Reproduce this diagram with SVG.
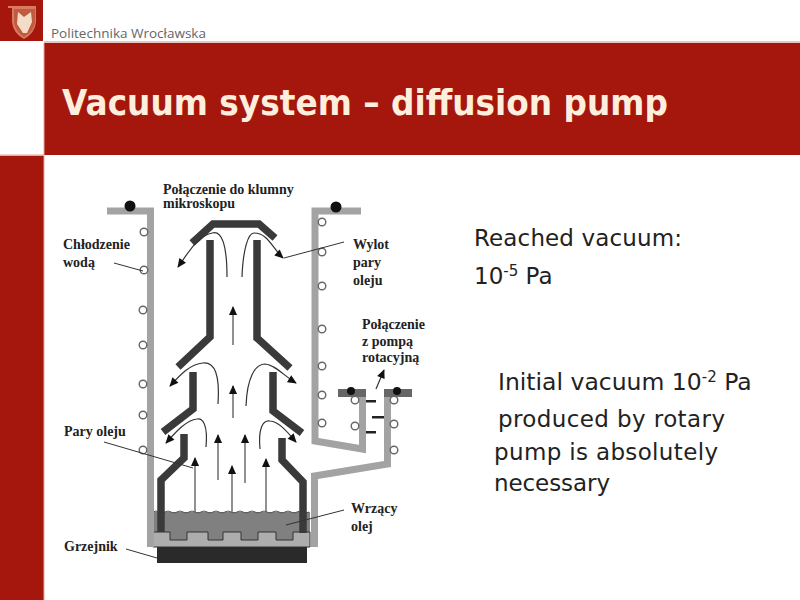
<svg xmlns="http://www.w3.org/2000/svg" width="800" height="600" viewBox="0 0 800 600">
<defs>
<marker id="ahb" viewBox="0 0 10 10" refX="9" refY="5" markerWidth="14" markerHeight="9" markerUnits="userSpaceOnUse" orient="auto"><path d="M0,0.5 L10,5 L0,9.5 Z" fill="#111"/></marker>
</defs>
<style>
.red{fill:#a5170d}
.wall{fill:none;stroke:#a3a3a3;stroke-width:7}
.noz{fill:none;stroke:#3a3a3a;stroke-width:7.500}
.flow{fill:none;stroke:#333;stroke-width:1.2;marker-end:url(#ahb)}
.up{fill:none;stroke:#555;stroke-width:1.3;marker-end:url(#ahb)}
.lead{fill:none;stroke:#333;stroke-width:1}
.c{fill:#fff;stroke:#666;stroke-width:1.4}
.dot{fill:#111}
.lab{font-family:"Liberation Serif",serif;font-weight:bold;font-size:14px;fill:#222}
.t{font-family:"DejaVu Sans",sans-serif;font-size:23px;fill:#222}
.sup{font-size:15px}
</style>
<rect width="800" height="600" fill="#fff"/>
<g id="frame">
<rect class="red" x="0" y="0" width="43" height="41"/>
<rect class="red" x="44" y="43" width="756" height="112"/>
<rect class="red" x="0" y="155" width="44" height="445"/>
<rect x="44" y="41" width="756" height="2" fill="#e8c4bc"/>
<rect x="0" y="154.500" width="44" height="1.500" fill="#e8a8a0"/>
<rect x="43.500" y="43" width="1" height="557" fill="#e8a8a0"/>
<path d="M8,6 L36,6 L36,22 Q35,33 24,39 Q13,33 12,22 L12,8 L8,8 Z" fill="#d97a5f"/>
<path d="M14,9 L35,9 L35,22 Q34,31 24,37 Q15,31 14,22 Z" fill="#c05a40"/>
<path d="M18,12 L24,17 L31,12 L32,22 L27,33 L23,33 L17,24 Z" fill="#f3dcc8"/>
<text x="51" y="37.500" font-family="Open Sans, sans-serif" font-size="13.500" fill="#666">Politechnika Wrocławska</text>
<text x="62" y="115" font-family="DejaVu Sans, sans-serif" font-weight="bold" font-size="36" fill="#fdeedd" textLength="606" lengthAdjust="spacingAndGlyphs">Vacuum system – diffusion pump</text>
</g>
<g id="pump-body">
<rect x="153" y="512" width="157" height="35" fill="#808080"/>
<path d="M153,532 H170 V540 H187 V532 H208 V540 H223 V532 H241 V540 H258 V532 H276 V540 H293 V532 H310 V547 H153 Z" fill="#adadad" stroke="#333" stroke-width="1"/>
<path d="M153,512 q3,-2 6,0 t6,0 t6,0 t6,0 t6,0 t6,0 t6,0 t6,0 t6,0 t6,0 t6,0 t6,0 t6,0 t6,0 t6,0 t6,0 t6,0 t6,0 t6,0 t6,0 t6,0 t6,0 t6,0 t6,0 t6,0 t6,0" fill="none" stroke="#555" stroke-width="1"/>
<rect x="157" y="547" width="150" height="16" fill="#2a2a2a"/>
<path class="wall" d="M107,211 H150.500 V547"/>
<path class="wall" d="M361,211 H315 V441 L362.500,449 V393"/>
<path class="wall" d="M387.500,393 V464 L314.500,476 V547"/>
<rect x="338" y="389" width="28" height="8" fill="#666"/>
<rect x="384" y="389" width="28" height="8" fill="#666"/>
</g>
<g id="nozzles">
<path class="noz" d="M192,243 L213,224 H259 L275,238"/>
<path class="noz" d="M210,240 V337 L178,367"/>
<path class="noz" d="M257,240 V338 L290,368"/>
<path class="noz" d="M193,372 V409 L163,432"/>
<path class="noz" d="M273,372 V411 L302,433"/>
<path class="noz" d="M184,434 V458 L161,480 V532"/>
<path class="noz" d="M282,438 V460 L303,482 V533"/>
</g>
<g id="studs">
<circle class="dot" cx="130" cy="206" r="5.500"/><circle class="dot" cx="336" cy="207" r="5.500"/>
<circle class="dot" cx="351" cy="391" r="4"/><circle class="dot" cx="397" cy="391" r="4"/>
<rect x="366" y="400" width="10" height="2.500" fill="#222"/><rect x="372" y="416" width="12" height="2.500" fill="#222"/><rect x="366" y="431" width="10" height="2.500" fill="#222"/>
<g id="coils">
<circle class="c" cx="144" cy="232" r="3.800"/><circle class="c" cx="144" cy="270" r="3.800"/><circle class="c" cx="143" cy="310" r="3.800"/><circle class="c" cx="143" cy="345" r="3.800"/><circle class="c" cx="143" cy="384" r="3.800"/><circle class="c" cx="143" cy="415" r="3.800"/><circle class="c" cx="143" cy="450" r="3.800"/>
<circle class="c" cx="322" cy="222" r="3.800"/><circle class="c" cx="322" cy="252" r="3.800"/><circle class="c" cx="322" cy="286" r="3.800"/><circle class="c" cx="322" cy="329" r="3.800"/><circle class="c" cx="322" cy="366" r="3.800"/><circle class="c" cx="322" cy="395" r="3.800"/><circle class="c" cx="322" cy="423" r="3.800"/>
<circle class="c" cx="355" cy="400" r="3.800"/><circle class="c" cx="355" cy="426" r="3.800"/><circle class="c" cx="394" cy="400" r="3.800"/><circle class="c" cx="394" cy="424" r="3.800"/><circle class="c" cx="394" cy="450" r="3.800"/>
</g>
</g>
<g id="connectors">
<path class="flow" d="M227,277 C227,245 222,230 212,233 C198,236 190,250 178,267"/>
<path class="flow" d="M242,277 C243,250 248,233 254,233 C268,233 272,248 283,258"/>
<path class="flow" d="M218,404 C220,375 215,362 203,363 C190,364 180,375 170,386"/>
<path class="flow" d="M246,406 C247,378 255,364 265,364 C275,365 283,375 296,383"/>
<path class="flow" d="M206,447 C208,425 203,418 197,419 C186,420 175,433 166,443"/>
<path class="flow" d="M260,449 C258,428 263,420 270,421 C280,422 288,433 296,442"/>
<path class="up" d="M233,345 V307"/><path class="up" d="M233,418 V386"/><path class="up" d="M218,480 V435"/><path class="up" d="M245,483 V435"/>
<path class="up" d="M195,512 V458"/><path class="up" d="M232,512 V466"/><path class="up" d="M266,512 V459"/>
<path class="flow" d="M376,389 L384,370"/>
<path class="lead" d="M114,263 L143,271"/>
<path class="lead" d="M344,242 L284,258"/>
<path class="lead" d="M104,442 L193,468"/>
<path class="lead" d="M126,549 L157,558"/>
<path class="lead" d="M344,510 L286,525"/>
</g>
<g id="labels">
<text class="lab" x="163" y="194">Połączenie do klumny</text>
<text class="lab" x="163" y="208">mikroskopu</text>
<text class="lab" x="63" y="249">Chłodzenie</text>
<text class="lab" x="63" y="267">wodą</text>
<text class="lab" x="353" y="249">Wylot</text>
<text class="lab" x="353" y="267">pary</text>
<text class="lab" x="353" y="285">oleju</text>
<text class="lab" x="362" y="329">Połączenie</text>
<text class="lab" x="362" y="346">z pompą</text>
<text class="lab" x="362" y="362">rotacyjną</text>
<text class="lab" x="64" y="436">Pary oleju</text>
<text class="lab" x="351" y="513">Wrzący</text>
<text class="lab" x="351" y="531">olej</text>
<text class="lab" x="64" y="551">Grzejnik</text>
</g>
<g id="text">
<text class="t" x="474" y="246" textLength="208">Reached vacuum:</text>
<text class="t" x="474" y="284">10<tspan class="sup" dy="-8">-5</tspan><tspan dy="8"> Pa</tspan></text>
<text class="t" x="498" y="390" font-size="23.500" style="font-size:23.500px">Initial vacuum 10<tspan class="sup" dy="-8">-2</tspan><tspan dy="8"> Pa</tspan></text>
<text class="t" x="498" y="427" textLength="227">produced by rotary</text>
<text class="t" x="494" y="460" textLength="224">pump is absolutely</text>
<text class="t" x="494" y="491" textLength="116">necessary</text>
</g>
</svg>
